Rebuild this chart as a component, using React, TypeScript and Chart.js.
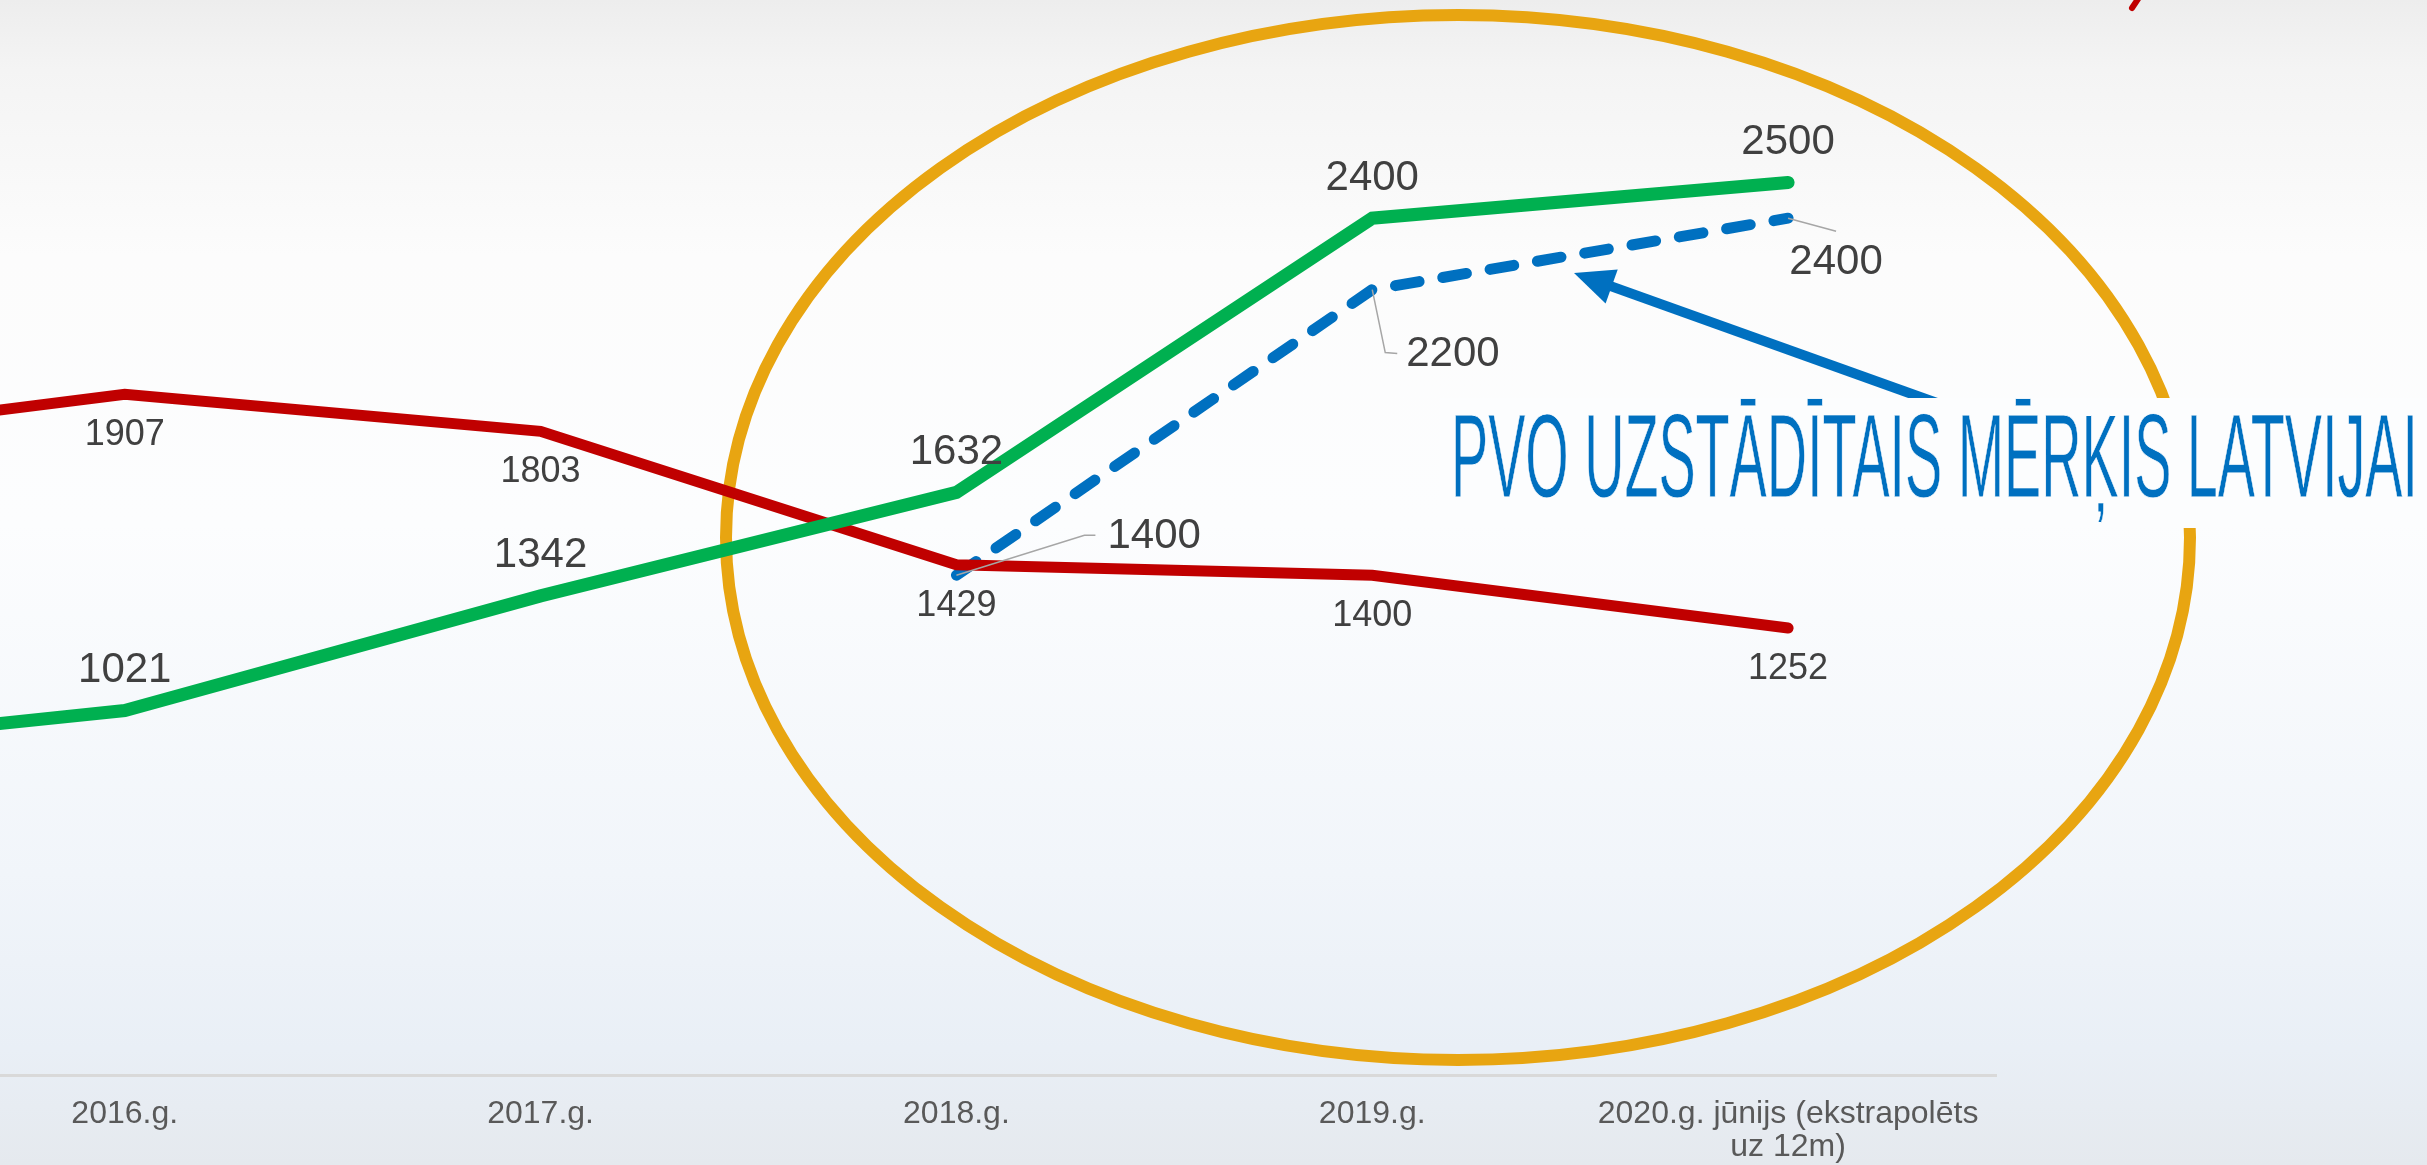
import React, { useEffect, useRef } from "react";
import { Chart, registerables } from "chart.js";

Chart.register(...registerables);

// ---- data ----
const categories: (string | string[])[] = [
  "2015.g.",
  "2016.g.",
  "2017.g.",
  "2018.g.",
  "2019.g.",
  ["2020.g. jūnijs (ekstrapolēts", "uz 12m)"],
];
const greenValues = [900, 1021, 1342, 1632, 2400, 2500];
const redValues = [1760, 1907, 1803, 1429, 1400, 1252];
const targetValues: (number | null)[] = [null, null, null, 1400, 2200, 2400];
const calloutText = "PVO UZSTĀDĪTAIS MĒRĶIS LATVIJAI";

// ---- layout / style constants ----
const W = 2427;
const H = 1165;
const GREEN = "#00B050";
const RED = "#C00000";
const BLUE = "#0070C0";
const ORANGE = "#E8A511";
const LABEL = "#404040";
const FONT = '"Liberation Sans", Arial, sans-serif';

// leader-line callouts for the target series (offsets from the point, px)
const targetCallouts: Record<number, { leader: number[][]; text: number[]; align: CanvasTextAlign }> = {
  3: { leader: [[128, -40], [139, -40]], text: [151, -39], align: "left" },
  4: { leader: [[13, 63], [25, 64]], text: [34, 65], align: "left" },
  5: { leader: [[48, 13]], text: [48, 44], align: "center" },
};

const toPoints = (arr: (number | null)[]) =>
  arr
    .map((v, i) => (v === null ? null : { x: i, y: v }))
    .filter((p) => p !== null) as { x: number; y: number }[];

const decorPlugin = {
  id: "decor",
  beforeDraw(chart: any) {
    const ctx: CanvasRenderingContext2D = chart.ctx;
    ctx.save();
    const g = ctx.createLinearGradient(0, 0, 0, H);
    g.addColorStop(0, "#ededed");
    g.addColorStop(0.06, "#f4f4f4");
    g.addColorStop(0.22, "#fcfcfc");
    g.addColorStop(0.45, "#fcfdfe");
    g.addColorStop(0.75, "#f1f5fa");
    g.addColorStop(0.9, "#e9eff6");
    g.addColorStop(1, "#e5e9ee");
    ctx.fillStyle = g;
    ctx.fillRect(0, 0, W, H);
    // orange highlight ellipse
    ctx.beginPath();
    ctx.ellipse(1458, 537.5, 732, 522.5, 0, 0, Math.PI * 2);
    ctx.strokeStyle = ORANGE;
    ctx.lineWidth = 12;
    ctx.stroke();
    ctx.restore();
  },
  afterDatasetsDraw(chart: any) {
    const ctx: CanvasRenderingContext2D = chart.ctx;
    ctx.save();
    ctx.fillStyle = LABEL;
    ctx.textBaseline = "middle";
    chart.data.datasets.forEach((ds: any, di: number) => {
      const meta = chart.getDatasetMeta(di);
      meta.data.forEach((el: any, j: number) => {
        const raw = ds.data[j];
        const idx = raw.x;
        if (el.x < 0 || el.x > chart.chartArea.right) return;
        const txt = String(raw.y);
        if (ds.labelMode === "above") {
          ctx.font = `42px ${FONT}`;
          ctx.textAlign = "center";
          ctx.fillText(txt, el.x, el.y - 40);
        } else if (ds.labelMode === "below") {
          ctx.font = `36px ${FONT}`;
          ctx.textAlign = "center";
          ctx.fillText(txt, el.x, el.y + 41);
        } else if (ds.labelMode === "callout") {
          const c = targetCallouts[idx];
          if (!c) return;
          ctx.beginPath();
          ctx.moveTo(el.x, el.y);
          c.leader.forEach((p) => ctx.lineTo(el.x + p[0], el.y + p[1]));
          ctx.strokeStyle = "#a6a6a6";
          ctx.lineWidth = 1.5;
          ctx.stroke();
          ctx.font = `42px ${FONT}`;
          ctx.textAlign = c.align;
          ctx.fillText(txt, el.x + c.text[0], el.y + c.text[1]);
        }
      });
    });
    ctx.restore();
  },
  afterDraw(chart: any) {
    const ctx: CanvasRenderingContext2D = chart.ctx;
    ctx.save();
    // blue arrow
    const tip = [1574, 273];
    const tail = [1951, 408];
    const dx = tip[0] - tail[0];
    const dy = tip[1] - tail[1];
    const len = Math.hypot(dx, dy);
    const ux = dx / len;
    const uy = dy / len;
    const start = [tail[0] - ux * 40, tail[1] - uy * 40];
    const base = [tip[0] - ux * 40, tip[1] - uy * 40];
    ctx.strokeStyle = BLUE;
    ctx.lineWidth = 10;
    ctx.beginPath();
    ctx.moveTo(start[0], start[1]);
    ctx.lineTo(base[0] + ux * 4, base[1] + uy * 4);
    ctx.stroke();
    const nx = -uy;
    const ny = ux;
    ctx.fillStyle = BLUE;
    ctx.beginPath();
    ctx.moveTo(tip[0], tip[1]);
    ctx.lineTo(base[0] + nx * 18, base[1] + ny * 18);
    ctx.lineTo(base[0] - nx * 18, base[1] - ny * 18);
    ctx.closePath();
    ctx.fill();

    // callout box + text
    const boxColor = "rgb(252,253,254)";
    ctx.fillStyle = boxColor;
    ctx.fillRect(1440, 398, W - 1440, 130);
    ctx.font = `118px "Liberation Sans Narrow", "Liberation Sans", sans-serif`;
    ctx.textAlign = "left";
    ctx.textBaseline = "alphabetic";
    const m = ctx.measureText(calloutText).width;
    const targetW = 967;
    ctx.translate(1451, 497);
    ctx.scale(targetW / m, 1);
    ctx.fillStyle = BLUE;
    ctx.fillText(calloutText, 0, 0);
    // thin the glyphs a touch (the original face is a light condensed one)
    ctx.strokeStyle = boxColor;
    ctx.lineWidth = 0.8;
    ctx.lineJoin = "round";
    ctx.strokeText(calloutText, 0, 0);
    ctx.setTransform(1, 0, 0, 1, 0, 0);

    // red mark at the top right corner (cut-off decoration)
    ctx.strokeStyle = "#C00000";
    ctx.lineWidth = 6;
    ctx.lineCap = "round";
    ctx.beginPath();
    ctx.moveTo(2140, -4);
    ctx.lineTo(2132, 8);
    ctx.stroke();
    ctx.restore();
  },
};

export default function App() {
  const ref = useRef<HTMLCanvasElement | null>(null);

  useEffect(() => {
    if (!ref.current) return;
    const chart = new Chart(ref.current, {
      type: "line",
      data: {
        datasets: [
          {
            label: "Sērija 1",
            data: toPoints(greenValues),
            borderColor: GREEN,
            borderWidth: 13,
            pointRadius: 0,
            borderCapStyle: "round",
            borderJoinStyle: "miter",
            labelMode: "above",
          } as any,
          {
            label: "Sērija 2",
            data: toPoints(redValues),
            borderColor: RED,
            borderWidth: 11,
            pointRadius: 0,
            borderCapStyle: "round",
            borderJoinStyle: "miter",
            labelMode: "below",
          } as any,
          {
            label: "PVO mērķis",
            data: toPoints(targetValues),
            borderColor: BLUE,
            borderWidth: 11,
            borderDash: [24, 24],
            pointRadius: 0,
            borderCapStyle: "round",
            borderJoinStyle: "round",
            labelMode: "callout",
          } as any,
        ],
      },
      options: {
        animation: false,
        responsive: false,
        devicePixelRatio: 1,
        layout: { padding: { left: 0, right: 431, top: 4, bottom: 0 } },
        plugins: {
          legend: { display: false },
          tooltip: { enabled: false },
        },
        scales: {
          x: {
            type: "linear",
            min: 0.7,
            max: 5.5,
            afterBuildTicks: (scale: any) => {
              scale.ticks = categories
                .map((_, i) => ({ value: i }))
                .filter((t) => t.value >= 1);
            },
            afterFit: (scale: any) => {
              scale.height = 90;
            },
            ticks: {
              autoSkip: false,
              maxRotation: 0,
              minRotation: 0,
              padding: 23,
              color: "#595959",
              font: { family: FONT, size: 32, lineHeight: 1.02 },
              callback: (v: any) => categories[Math.round(Number(v))] as any,
            },
            grid: { display: true, color: "rgba(0,0,0,0)", drawTicks: false },
            border: { display: true, color: "#d9d9d9", width: 3 },
          },
          y: {
            display: false,
            min: 0,
            max: 3000,
          },
        },
      } as any,
      plugins: [decorPlugin],
    });
    return () => chart.destroy();
  }, []);

  return (
    <div style={{ position: "fixed", left: 0, top: 0, width: W, height: H, overflow: "hidden" }}>
      <canvas ref={ref} width={W} height={H} style={{ display: "block", width: W, height: H }} />
    </div>
  );
}
